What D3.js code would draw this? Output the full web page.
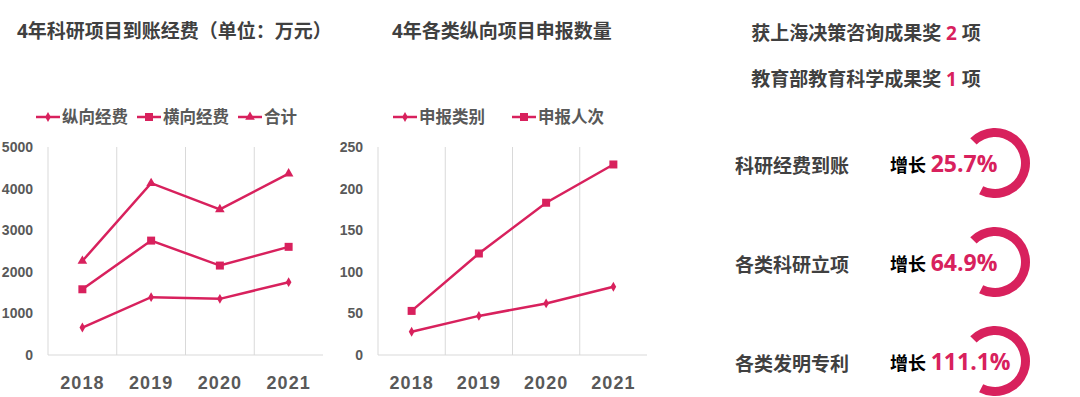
<!DOCTYPE html>
<html>
  <head>
    <meta charset="UTF-8">
    <title>科研数据概览</title>
    <script src="https://d3js.org/d3.v7.min.js"></script>
    <style>
      body { margin: 0; background: #fff; }
      svg.chart {
        font-family: "Open Sans", "Noto Sans CJK SC", sans-serif;
        font-weight: bold;
        background: #fff;
      }
      .title { font-size: 19px; fill: #404040; }
      .legend text { font-size: 16.5px; fill: #595959; }
      .y-axis text { font-size: 14px; fill: #595959; font-weight: bold; }
      .x-axis text { font-size: 18px; fill: #595959; font-weight: bold; letter-spacing: 1px; }
      .grid line { stroke: #d9d9d9; stroke-width: 1; }
    </style>
  </head>
  <body>
    <div id="chart"></div>
    <script>

      // data
      const years = ["2018", "2019", "2020", "2021"];

      const fundZongxiang = [660, 1390, 1350, 1750];
      const fundHengxiang = [1580, 2750, 2150, 2600];
      const fundTotal = [2260, 4130, 3500, 4360];
      const fundTicks = [0, 1000, 2000, 3000, 4000, 5000];

      const applyCategories = [28, 47, 62, 82];
      const applyPersons = [53, 122, 183, 229];
      const applyTicks = [0, 50, 100, 150, 200, 250];

      const awardNames = ["获上海决策咨询成果奖", "教育部教育科学成果奖"];
      const awardCounts = [2, 1];

      const growthLabels = ["科研经费到账", "各类科研立项", "各类发明专利"];
      const growthValues = ["25.7%", "64.9%", "111.1%"];

      const red = "#d8215d";
      const width = 1080;
      const height = 397;

      const svg = d3.select("#chart")
        .append("svg")
        .attr("width", width)
        .attr("height", height)
        .attr("class", "chart");

      // drop shadow for the separator line
      const defs = svg.append("defs");
      const shadow = defs.append("filter")
        .attr("id", "shadow")
        .attr("x", "-5%").attr("y", "-200%")
        .attr("width", "110%").attr("height", "600%");
      shadow.append("feDropShadow")
        .attr("dx", 0).attr("dy", 3)
        .attr("stdDeviation", 2)
        .attr("flood-color", "#000")
        .attr("flood-opacity", 0.25);

      // one line chart panel
      function drawLineChart(cfg) {
        const g = svg.append("g");

        g.append("text")
          .attr("class", "title")
          .attr("x", cfg.titleX)
          .attr("y", 38)
          .text(cfg.title);

        const x = d3.scaleBand()
          .domain(years)
          .range([cfg.left, cfg.right])
          .padding(0);
        const y = d3.scaleLinear()
          .domain([0, d3.max(cfg.ticks)])
          .range([355, 147]);

        // vertical gridlines at band edges
        g.append("g")
          .attr("class", "grid")
          .selectAll("line")
          .data(years)
          .enter()
          .append("line")
          .attr("x1", d => x(d))
          .attr("x2", d => x(d))
          .attr("y1", y.range()[1])
          .attr("y2", y.range()[0]);

        g.append("g")
          .attr("class", "grid")
          .append("line")
          .attr("x1", cfg.left)
          .attr("x2", cfg.right)
          .attr("y1", y(0))
          .attr("y2", y(0));

        g.append("g")
          .attr("class", "y-axis")
          .attr("transform", `translate(${cfg.left},0)`)
          .call(d3.axisLeft(y)
            .tickValues(cfg.ticks)
            .tickFormat(d3.format("d"))
            .tickSize(0)
            .tickPadding(15))
          .select(".domain")
          .remove();

        g.append("g")
          .attr("class", "x-axis")
          .attr("transform", `translate(0,${y(0)})`)
          .call(d3.axisBottom(x).tickSize(0).tickPadding(21))
          .select(".domain")
          .remove();

        const line = d3.line()
          .x((d, i) => x(years[i]) + x.bandwidth() / 2)
          .y(d => y(d));

        cfg.series.forEach(s => {
          g.append("path")
            .datum(s.values)
            .attr("fill", "none")
            .attr("stroke", red)
            .attr("stroke-width", 2.5)
            .attr("d", line);

          g.selectAll(null)
            .data(s.values)
            .enter()
            .append("path")
            .attr("transform", (d, i) => `translate(${x(years[i]) + x.bandwidth() / 2},${y(d)})`)
            .attr("d", d3.symbol().type(s.symbol).size(s.size))
            .attr("fill", red);
        });

        // legend
        const legend = g.append("g").attr("class", "legend");
        let lx = cfg.legendX;
        cfg.series.forEach(s => {
          const item = legend.append("g").attr("transform", `translate(${lx},117)`);
          item.append("line")
            .attr("x1", 0).attr("x2", 24)
            .attr("stroke", red)
            .attr("stroke-width", 2.5);
          item.append("path")
            .attr("transform", "translate(12,0)")
            .attr("d", d3.symbol().type(s.symbol).size(s.size))
            .attr("fill", red);
          const t = item.append("text")
            .attr("x", 26)
            .attr("dy", "0.35em")
            .text(s.name);
          lx += 26 + t.node().getComputedTextLength() + cfg.legendGap;
        });
      }

      drawLineChart({
        title: "4年科研项目到账经费（单位：万元）",
        titleX: 17,
        left: 48,
        right: 323,
        ticks: fundTicks,
        legendX: 36,
        legendGap: 9,
        series: [
          { name: "纵向经费", values: fundZongxiang, symbol: d3.symbolDiamond, size: 28 },
          { name: "横向经费", values: fundHengxiang, symbol: d3.symbolSquare, size: 64 },
          { name: "合计", values: fundTotal, symbol: d3.symbolTriangle, size: 40 }
        ]
      });

      drawLineChart({
        title: "4年各类纵向项目申报数量",
        titleX: 392,
        left: 378,
        right: 647,
        ticks: applyTicks,
        legendX: 393,
        legendGap: 27,
        series: [
          { name: "申报类别", values: applyCategories, symbol: d3.symbolDiamond, size: 28 },
          { name: "申报人次", values: applyPersons, symbol: d3.symbolSquare, size: 64 }
        ]
      });

      // right panel: awards
      const panel = svg.append("g");
      const awardY = d3.scalePoint().domain(awardNames).range([33, 79]);

      awardNames.forEach((name, i) => {
        const t = panel.append("text")
          .attr("x", 866)
          .attr("y", awardY(name))
          .attr("dy", "0.35em")
          .attr("text-anchor", "middle")
          .style("font-size", "19px")
          .attr("fill", "#404040");
        t.append("tspan").text(name + " ");
        t.append("tspan").attr("fill", red).text(awardCounts[i]);
        t.append("tspan").text(" 项");
      });

      panel.append("line")
        .attr("x1", 669).attr("x2", 1072)
        .attr("y1", 105).attr("y2", 105)
        .attr("stroke", red)
        .attr("stroke-width", 2)
        .attr("filter", "url(#shadow)");

      // right panel: growth rows
      const rowY = d3.scalePoint().domain(growthLabels).range([166, 364]);
      const ring = d3.arc()
        .innerRadius(26)
        .outerRadius(35)
        .startAngle(-45 * Math.PI / 180)
        .endAngle(207 * Math.PI / 180);

      growthLabels.forEach((label, i) => {
        const cy = rowY(label);

        panel.append("path")
          .attr("transform", `translate(995,${cy - 3})`)
          .attr("d", ring())
          .attr("fill", red);

        panel.append("text")
          .attr("x", 792)
          .attr("y", cy)
          .attr("dy", "0.35em")
          .attr("text-anchor", "middle")
          .style("font-size", "19px")
          .attr("fill", "#404040")
          .text(label);

        const t = panel.append("text")
          .attr("x", 890)
          .attr("y", cy)
          .attr("dy", "0.35em");
        t.append("tspan")
          .style("font-size", "18px")
          .attr("fill", "#000")
          .text("增长 ");
        t.append("tspan")
          .style("font-size", "23px")
          .attr("fill", red)
          .text(growthValues[i]);
      });

    </script>
  </body>
</html>
